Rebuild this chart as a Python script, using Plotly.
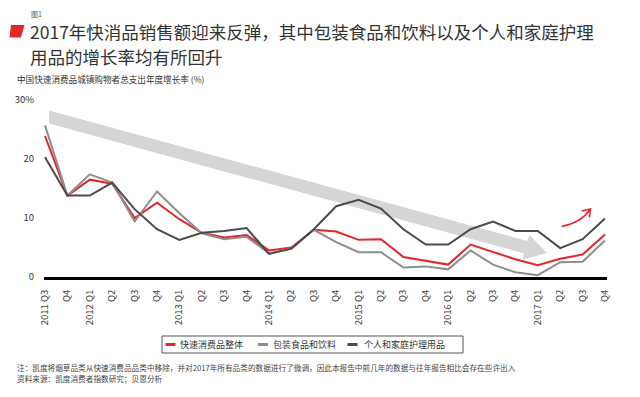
import numpy as np
import plotly.graph_objects as go

# ---------------- data ----------------
quarters = ["2011 Q3", "Q4",
            "2012 Q1", "Q2", "Q3", "Q4",
            "2013 Q1", "Q2", "Q3", "Q4",
            "2014 Q1", "Q2", "Q3", "Q4",
            "2015 Q1", "Q2", "Q3", "Q4",
            "2016 Q1", "Q2", "Q3", "Q4",
            "2017 Q1", "Q2", "Q3", "Q4"]

fmcg_total = [23.9, 13.8, 16.5, 15.8, 10.0, 12.6, 9.8, 7.5, 6.7, 7.1, 4.5, 5.0, 8.0,
              7.7, 6.3, 6.4, 3.4, 2.8, 2.1, 5.5, 4.2, 3.0, 2.0, 3.1, 3.8, 7.2]
packaged_food = [25.7, 13.8, 17.4, 16.0, 9.4, 14.5, 10.8, 7.4, 6.4, 6.8, 4.0, 4.8, 8.0,
                 5.9, 4.2, 4.2, 1.6, 1.8, 1.3, 4.5, 2.1, 0.8, 0.3, 2.5, 2.6, 6.2]
personal_care = [20.3, 13.8, 13.8, 16.0, 11.5, 8.1, 6.3, 7.5, 7.8, 8.3, 3.9, 4.8, 8.1,
                 12.0, 13.1, 11.6, 8.1, 5.5, 5.5, 8.1, 9.4, 7.8, 7.8, 4.9, 6.4, 9.9]

series_names = ["快速消费品整体", "包装食品和饮料", "个人和家庭护理用品"]
y_ticks = [0, 10, 20, 30]
y_tick_text = ["0", "10", "20", "30%"]

title_line1 = "2017年快消品销售额迎来反弹，其中包装食品和饮料以及个人和家庭护理"
title_line2 = "用品的增长率均有所回升"
fig_label = "图1"
subtitle = "中国快速消费品城镇购物者总支出年度增长率 (%)"
note1 = "注：凯度将烟草品类从快速消费品品类中移除，并对2017年所有品类的数据进行了微调，因此本报告中前几年的数据与往年报告相比会存在些许出入"
note2 = "资料来源：凯度消费者指数研究；贝恩分析"

# ---------------- layout geometry ----------------
OFF = 8  # page body margin offset
W, H = 640 - OFF, 397 - OFF
PLOT_L, PLOT_R, PLOT_T, PLOT_B = 44, 607, 100, 277  # in reference pixels
ML = PLOT_L - OFF
MT = PLOT_T - OFF
MR = W - (PLOT_R - OFF)
MB = H - (PLOT_B - OFF)
PW = PLOT_R - PLOT_L
PH = PLOT_B - PLOT_T
X_RANGE = [-0.045, 25.09]
Y_RANGE = [0, 30]

FONT = "Noto Sans CJK SC, Lato, sans-serif"
RED = "#e3262d"
GRAY = "#8e8e8e"
DARK = "#4b4b4b"


def px2data(px, py):
    x = X_RANGE[0] + (px - PLOT_L) / PW * (X_RANGE[1] - X_RANGE[0])
    y = Y_RANGE[0] + (PLOT_B - py) / PH * (Y_RANGE[1] - Y_RANGE[0])
    return x, y


def px2paper(px, py):
    return (px - PLOT_L) / PW, (PLOT_B - py) / PH


xs = list(range(len(quarters)))
series = [(series_names[0], fmcg_total, RED),
          (series_names[1], packaged_food, GRAY),
          (series_names[2], personal_care, DARK)]

fig = go.Figure()
for name, vals, col in series:
    fig.add_trace(go.Scatter(x=xs, y=vals, name=name, mode="lines",
                             line=dict(color=col, width=2), showlegend=False))

# ---------- big grey trend arrow (behind lines) ----------
T = np.array([49.0, 117.0])
P = np.array([547.0, 253.0])
d = (P - T) / np.linalg.norm(P - T)
n = np.array([-d[1], d[0]])
h, Lh, Hh = 6.4, 22.0, 13.0
B = P - Lh * d
pts = [(T[0], T[1] - 6.6), tuple(B - h * n), tuple(B - Hh * n), tuple(P),
       tuple(B + Hh * n), tuple(B + h * n), (T[0], T[1] + 6.6)]
dpts = [px2data(*p) for p in pts]
path = "M " + " L ".join(f"{x:.4f},{y:.4f}" for x, y in dpts) + " Z"
fig.add_shape(type="path", path=path, xref="x", yref="y", layer="below",
              fillcolor="#d6d6d6", line=dict(width=0))

# ---------- small red curved arrow ----------
s = px2data(561.5, 226.5)
c = px2data(581.0, 223.0)
e = px2data(590.5, 209.0)
a1 = px2data(581.5, 211.0)
a2 = px2data(589.5, 217.5)
curve = (f"M {s[0]:.4f},{s[1]:.4f} Q {c[0]:.4f},{c[1]:.4f} {e[0]:.4f},{e[1]:.4f} "
         f"M {a1[0]:.4f},{a1[1]:.4f} L {e[0]:.4f},{e[1]:.4f} L {a2[0]:.4f},{a2[1]:.4f}")
fig.add_shape(type="path", path=curve, xref="x", yref="y",
              line=dict(color=RED, width=1.5))

# ---------- red title marker ----------
mk = [px2paper(11, 25), px2paper(24.5, 25), px2paper(21, 37.5), px2paper(9.5, 37.5)]
mpath = "M " + " L ".join(f"{x:.4f},{y:.4f}" for x, y in mk) + " Z"
fig.add_shape(type="path", path=mpath, xref="paper", yref="paper",
              fillcolor=RED, line=dict(width=0))

annotations = []


def add_text(text, px, py, size, color, yanchor="middle"):
    x, y = px2paper(px, py)
    annotations.append(dict(text=text, x=x, y=y, xref="paper", yref="paper",
                            xanchor="left", yanchor=yanchor, showarrow=False,
                            align="left", borderpad=0,
                            font=dict(family=FONT, size=size, color=color)))


add_text(fig_label, 30, 14, 7, "#555555")
add_text(title_line1, 29, 31.5, 17.5, "#333333")
add_text(title_line2, 29, 56.5, 17.5, "#333333")
add_text(subtitle, 16, 79, 8.6, "#333333")
add_text(note1, 16, 367, 7.65, "#444444")
add_text(note2, 16, 378, 7.65, "#444444")

# ---------- legend (box, line keys, labels) ----------
bx0, by0 = px2paper(162, 336)
bx1, by1 = px2paper(463, 353)
fig.add_shape(type="rect", xref="paper", yref="paper", x0=bx0, y0=by0, x1=bx1, y1=by1,
              line=dict(color="#555555", width=1), fillcolor="white")
key_x = [(165.5, 175.5), (258, 268), (347.5, 357.5)]
text_x = [179, 271.5, 363]
for (name, _, col), (k0, k1), tx in zip(series, key_x, text_x):
    kx0, ky = px2paper(k0, 344.5)
    kx1, _ = px2paper(k1, 344.5)
    fig.add_shape(type="line", xref="paper", yref="paper", x0=kx0, x1=kx1, y0=ky, y1=ky,
                  line=dict(color=col, width=3))
    add_text(name, tx, 344.5, 9, "#333333")

fig.update_layout(
    width=W, height=H,
    margin=dict(l=ML, r=MR, t=MT, b=MB, pad=0),
    paper_bgcolor="white", plot_bgcolor="white",
    font=dict(family=FONT, color="#333333"),
    showlegend=False,
    annotations=annotations,
    xaxis=dict(range=X_RANGE, tickmode="array", tickvals=xs, ticktext=quarters,
               tickangle=-90, showgrid=False, zeroline=False,
               showline=True, linecolor="black", linewidth=3,
               ticks="outside", ticklen=6, tickcolor="rgba(0,0,0,0)",
               tickfont=dict(size=9.5, color="#444444", family=FONT),
               automargin=False, fixedrange=True),
    yaxis=dict(range=Y_RANGE, tickmode="array", tickvals=y_ticks, ticktext=y_tick_text,
               showgrid=False, zeroline=False, showline=False,
               ticks="outside", ticklen=7, tickcolor="rgba(0,0,0,0)",
               tickfont=dict(size=9.5, color="#333333", family=FONT),
               automargin=False, fixedrange=True),
)

fig.write_html("out.html")
